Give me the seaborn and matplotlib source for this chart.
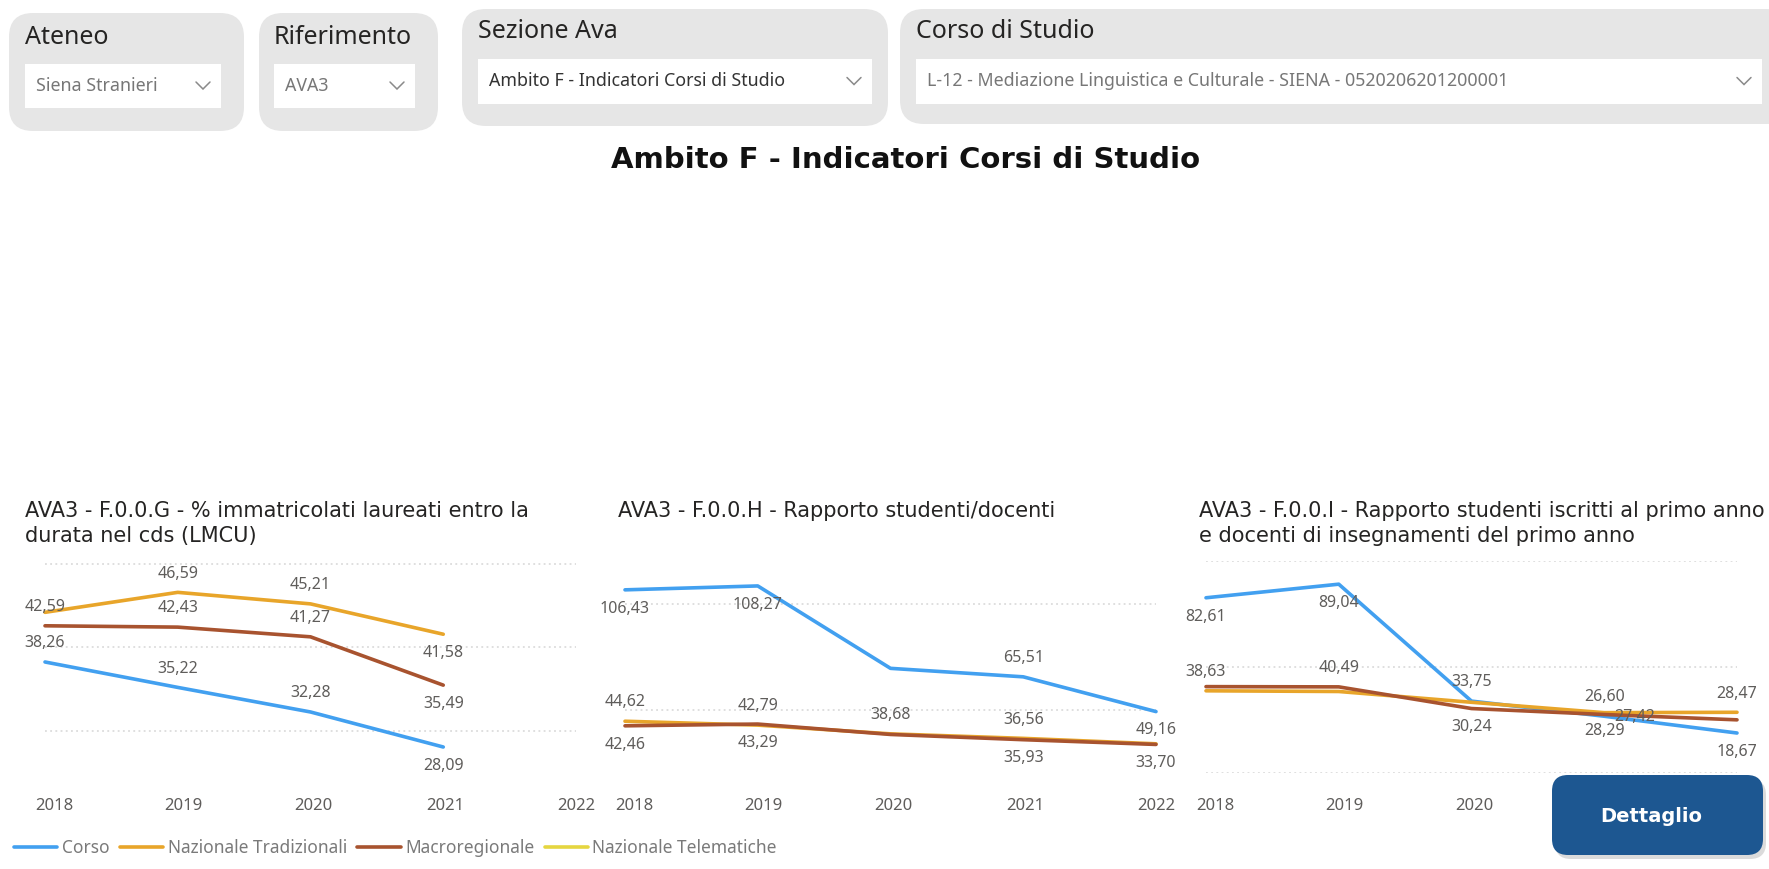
import numpy as np
import pandas as pd
import seaborn as sns
import matplotlib.pyplot as plt
import matplotlib.transforms as mtransforms
from matplotlib.patches import FancyBboxPatch, Rectangle
from matplotlib.lines import Line2D

# ---------------------------------------------------------------- data
years = [2018, 2019, 2020, 2021, 2022]
series_names = ["Corso", "Nazionale Tradizionali", "Macroregionale", "Nazionale Telematiche"]

# F.0.0.G - % immatricolati laureati entro la durata nel cds (LMCU)
g_corso = [38.26, 35.22, 32.28, 28.09, np.nan]
g_naz_trad = [44.20, 46.59, 45.21, 41.58, np.nan]
g_macro = [42.59, 42.43, 41.27, 35.49, np.nan]

# F.0.0.H - Rapporto studenti/docenti
h_corso = [106.43, 108.27, 69.50, 65.51, 49.16]
h_naz_trad = [44.62, 42.79, 38.68, 36.56, 34.00]
h_macro = [42.46, 43.29, 38.40, 35.93, 33.70]

# F.0.0.I - Rapporto studenti iscritti al primo anno / docenti del primo anno
i_corso = [82.61, 89.04, 33.75, 26.60, 18.67]
i_naz_trad = [38.63, 38.30, 33.20, 28.29, 28.47]
i_macro = [40.60, 40.49, 30.24, 27.42, 24.90]

chart_titles = [
    "AVA3 - F.0.0.G - % immatricolati laureati entro la\ndurata nel cds (LMCU)",
    "AVA3 - F.0.0.H - Rapporto studenti/docenti",
    "AVA3 - F.0.0.I - Rapporto studenti iscritti al primo anno\ne docenti di insegnamenti del primo anno",
]
slicer_titles = ["Ateneo", "Riferimento", "Sezione Ava", "Corso di Studio"]
slicer_values = ["Siena Stranieri", "AVA3", "Ambito F - Indicatori Corsi di Studio",
                 "L-12 - Mediazione Linguistica e Culturale - SIENA - 0520206201200001"]
page_title = "Ambito F - Indicatori Corsi di Studio"
button_text = "Dettaglio"

# ---------------------------------------------------------------- style
palette = {
    "Corso": "#42A0F0",
    "Nazionale Tradizionali": "#E8A52A",
    "Macroregionale": "#A8532F",
    "Nazionale Telematiche": "#E5D640",
}
sns.set_theme(style="white")
plt.rcParams["font.family"] = ["Noto Sans", "DejaVu Sans"]

LABEL_COLOR = "#5F5D5B"
U, D = "up", "down"

W, H = 1769, 869
fig = plt.figure(figsize=(W / 100, H / 100), dpi=100)
fig.patch.set_facecolor("white")


def px_rect(x0, y0, x1, y1):
    return [x0 / W, 1 - y1 / H, (x1 - x0) / W, (y1 - y0) / H]


# background layer in pixel units
bg = fig.add_axes([0, 0, 1, 1], zorder=0)
bg.set_xlim(0, W)
bg.set_ylim(H, 0)
bg.axis("off")

# ---------------------------------------------------------------- slicers
slicer_boxes = [(9, 13, 244, 131), (259, 13, 438, 131), (462, 9, 888, 126), (900, 9, 1790, 124)]
slicer_title_pos = [(25, 37), (274, 37), (478, 32), (916, 32)]
dropdowns = [(25, 64, 221, 108), (274, 64, 415, 108), (478, 59, 872, 104), (916, 59, 1762, 104)]
value_colors = ["#777777", "#777777", "#333333", "#777777"]

for (x0, y0, x1, y1), title, (tx, ty), (dx0, dy0, dx1, dy1), val, vc in zip(
        slicer_boxes, slicer_titles, slicer_title_pos, dropdowns, slicer_values, value_colors):
    bg.add_patch(FancyBboxPatch((x0, y0), x1 - x0, y1 - y0,
                                boxstyle="round,pad=0,rounding_size=24",
                                facecolor="#E6E6E6", edgecolor="none"))
    bg.text(tx, ty, title, fontsize=18, color="#252423", va="center", ha="left")
    bg.add_patch(Rectangle((dx0, dy0), dx1 - dx0, dy1 - dy0, facecolor="white", edgecolor="none"))
    bg.text(dx0 + 11, (dy0 + dy1) / 2, val, fontsize=12.8, color=vc, va="center", ha="left")
    cx, cy = dx1 - 18, (dy0 + dy1) / 2
    bg.plot([cx - 7, cx, cx + 7], [cy - 4, cy + 3, cy - 4], color="#8A8A8A", lw=1.1,
            solid_joinstyle="miter")

bg.text(906, 160, page_title, fontsize=21, fontweight="bold", color="#111111",
        ha="center", va="center", family="DejaVu Sans")

# ---------------------------------------------------------------- charts
charts = [
    dict(data={"Corso": g_corso, "Nazionale Tradizionali": g_naz_trad, "Macroregionale": g_macro},
         labels={"Corso": [U, U, U, D, None],
                 "Nazionale Tradizionali": [None, U, U, D, None],
                 "Macroregionale": [U, U, U, D, None]},
         ylim=(25.04, 50.34), grid=[30, 40, 50], x0=45, x1=576, title_x=25),
    dict(data={"Corso": h_corso, "Nazionale Tradizionali": h_naz_trad, "Macroregionale": h_macro},
         labels={"Corso": [D, D, None, U, D],
                 "Nazionale Tradizionali": [U, U, U, U, None],
                 "Macroregionale": [D, D, None, D, D]},
         ylim=(20.5, 120.0), grid=[50, 100], x0=625, x1=1156, title_x=618),
    dict(data={"Corso": i_corso, "Nazionale Tradizionali": i_naz_trad, "Macroregionale": i_macro},
         labels={"Corso": [D, D, U, U, D],
                 "Nazionale Tradizionali": [U, None, None, D, U],
                 "Macroregionale": [None, U, D, (22, -2), None]},
         ylim=(0.0, 100.0), grid=[0, 50, 100], x0=1206, x1=1737, title_x=1199),
]

PLOT_TOP, PLOT_BOTTOM = 561, 772.5
OFFSET_PT = 13.5
# category labels sit slightly inward from the first point
TICK_NUDGE_PX = [9, 6, 3, 2, 0]


def fmt(v):
    return f"{v:.2f}".replace(".", ",")


for spec, title in zip(charts, chart_titles):
    ax = fig.add_axes(px_rect(spec["x0"], PLOT_TOP, spec["x1"], PLOT_BOTTOM), zorder=1)
    ax.patch.set_alpha(0)
    frames = [pd.DataFrame({"Anno": years, "Valore": vals, "Serie": name})
              for name, vals in spec["data"].items()]
    df = pd.concat(frames, ignore_index=True)
    sns.lineplot(data=df, x="Anno", y="Valore", hue="Serie", palette=palette,
                 hue_order=list(spec["data"].keys()), linewidth=2.6, legend=False, ax=ax)
    for ln in ax.lines:
        ln.set_clip_on(False)
        ln.set_solid_joinstyle("round")
        ln.set_solid_capstyle("round")

    ax.set_xlim(years[0], years[-1])
    ax.set_ylim(*spec["ylim"])
    ax.set_xticks(years)
    ax.set_xticklabels([str(y) for y in years])
    ax.set_yticks(spec["grid"])
    ax.yaxis.grid(True, linestyle=(0, (1.2, 2.2)), color="#D6D6D6", linewidth=1.1)
    ax.xaxis.grid(False)
    ax.tick_params(axis="y", length=0, labelleft=False)
    ax.tick_params(axis="x", length=0, pad=18, labelsize=12, labelcolor=LABEL_COLOR)
    for lab, nudge in zip(ax.get_xticklabels(), TICK_NUDGE_PX):
        lab.set_transform(lab.get_transform() +
                          mtransforms.ScaledTranslation(nudge / 100, 0, fig.dpi_scale_trans))
    ax.set_xlabel("")
    ax.set_ylabel("")
    for s in ax.spines.values():
        s.set_visible(False)

    for name, vals in spec["data"].items():
        for yr, v, pos in zip(years, vals, spec["labels"][name]):
            if pos is None or np.isnan(v):
                continue
            if pos == U:
                off = (0, OFFSET_PT)
            elif pos == D:
                off = (0, -OFFSET_PT)
            else:
                off = pos
            ax.annotate(fmt(v), (yr, v), xytext=off, textcoords="offset points",
                        ha="center", va="center", fontsize=11.5, color=LABEL_COLOR,
                        annotation_clip=False)

    for k, line in enumerate(title.split("\n")):
        bg.text(spec["title_x"], 511 + 25 * k, line, fontsize=15, color="#252423",
                ha="left", va="center", family="DejaVu Sans")

# ---------------------------------------------------------------- legend
handles = [Line2D([], [], color=palette[n], lw=2.6) for n in series_names]
fig.legend(handles, series_names, loc="center left", bbox_to_anchor=(14 / W, 1 - 848 / H),
           ncol=4, frameon=False, fontsize=12.5, labelcolor="#7A7A7A",
           handlelength=2.5, handletextpad=0.25, columnspacing=0.6,
           borderaxespad=0, borderpad=0)

# ---------------------------------------------------------------- button
top = fig.add_axes([0, 0, 1, 1], zorder=3)
top.set_xlim(0, W)
top.set_ylim(H, 0)
top.axis("off")
top.patch.set_alpha(0)
top.add_patch(FancyBboxPatch((1555, 779), 211, 80, boxstyle="round,pad=0,rounding_size=16",
                             facecolor="#9A9A9A", edgecolor="none", alpha=0.35))
top.add_patch(FancyBboxPatch((1552, 775), 211, 80, boxstyle="round,pad=0,rounding_size=16",
                             facecolor="#1D5791", edgecolor="none"))
top.text(1651, 816, button_text, fontsize=14, fontweight="bold", color="white",
         ha="center", va="center", family="DejaVu Sans")

fig.savefig("out.png", dpi=100, facecolor="white")
